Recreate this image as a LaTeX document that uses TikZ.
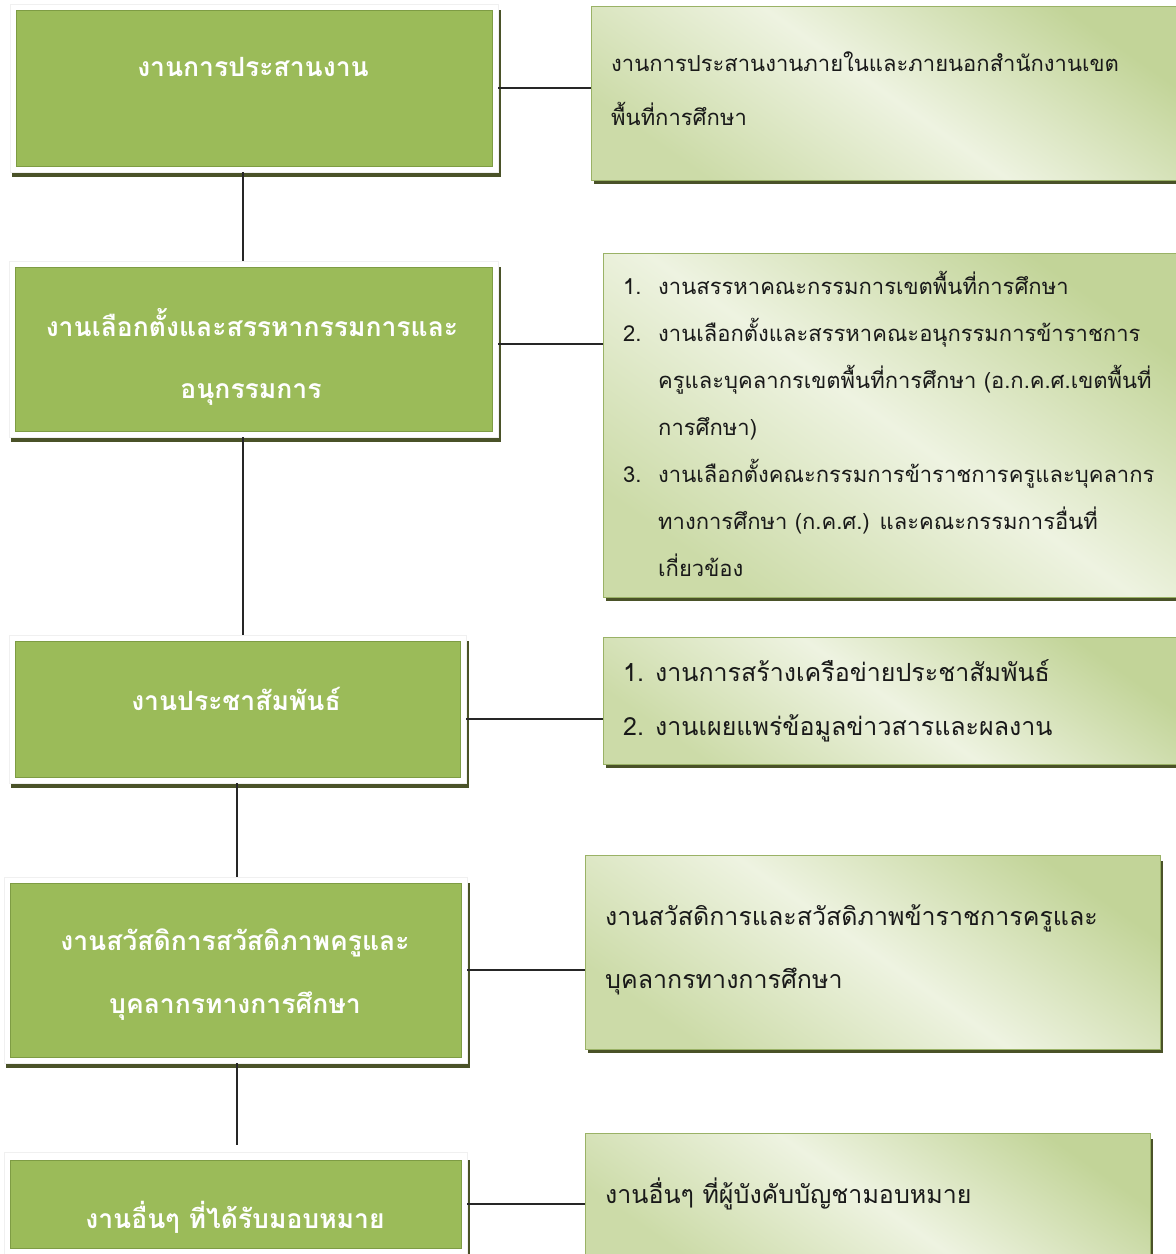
\documentclass[tikz,border=0pt]{standalone}
\usepackage{fontspec}
\newfontfamily\thai[Script=Thai]{Loma}
\definecolor{boxgreen}{HTML}{9BBB59}
\definecolor{boxgreenb}{HTML}{7E9C44}
\definecolor{shadowc}{HTML}{4A5228}
\definecolor{rgA}{HTML}{C2D498}
\definecolor{rgB}{HTML}{EEF3E1}
\definecolor{rgC}{HTML}{CCDBA8}
\definecolor{rborder}{HTML}{9AB266}
\begin{document}
\begin{tikzpicture}[x=1pt,y=-1pt,
  lefttext/.style={font=\thai\bfseries\fontsize{26.5}{30}\selectfont, text=white, inner sep=0pt, anchor=base},
  righttext/.style={font=\thai\fontsize{22}{26}\selectfont, text=black!90, inner sep=0pt, anchor=base west},
  bigright/.style={righttext, font=\thai\fontsize{25}{29}\selectfont},
  greenbox/.style={fill=boxgreen, draw=boxgreenb, line width=0.8pt},
  framebox/.style={fill=white, draw=black!6, line width=0.6pt},
  shadowbox/.style={fill=shadowc},
  rightbox/.style={top color=rgA, bottom color=rgC, middle color=rgB, shading angle=-35, draw=rborder, line width=0.8pt},
  conn/.style={draw=black!85, line width=1.4pt},
]
\useasboundingbox (0,0) rectangle (1176,1254);

% ---------- left boxes ----------
% box 1
\fill[shadowbox] (12,10) rectangle (501,177);
\node[framebox, minimum width=488pt, minimum height=168pt, inner sep=0pt] (f1) at (254,88) {};
\node[greenbox, minimum width=476pt, minimum height=156pt, inner sep=0pt] (g1) at (254,88) {};
% box 2
\fill[shadowbox] (11,267) rectangle (501,442);
\node[framebox, minimum width=489pt, minimum height=176pt, inner sep=0pt] (f2) at (253.5,349) {};
\node[greenbox, minimum width=477pt, minimum height=164pt, inner sep=0pt] (g2) at (253.5,349) {};
% box 3
\fill[shadowbox] (11,641) rectangle (469,788);
\node[framebox, minimum width=457pt, minimum height=148pt, inner sep=0pt] (f3) at (237.5,709) {};
\node[greenbox, minimum width=445pt, minimum height=136pt, inner sep=0pt] (g3) at (237.5,709) {};
% box 4
\fill[shadowbox] (6,883) rectangle (470,1068);
\node[framebox, minimum width=463pt, minimum height=186pt, inner sep=0pt] (f4) at (235.5,970) {};
\node[greenbox, minimum width=451pt, minimum height=174pt, inner sep=0pt] (g4) at (235.5,970) {};
% box 5
\fill[shadowbox] (6,1160) rectangle (470,1262);
\node[framebox, minimum width=463pt, minimum height=106pt, inner sep=0pt] (f5) at (235.5,1205) {};
\node[greenbox, minimum width=451pt, minimum height=88pt, inner sep=0pt] (g5) at (235.5,1204) {};

% ---------- right boxes ----------
\fill[shadowbox] (594,12) rectangle (1180,184);
\node[rightbox, minimum width=589pt, minimum height=174pt, inner sep=0pt] (r1) at (885.5,93) {};
\fill[shadowbox] (606,259) rectangle (1180,601);
\node[rightbox, minimum width=577pt, minimum height=344pt, inner sep=0pt] (r2) at (891.5,425) {};
\fill[shadowbox] (606,643) rectangle (1180,768);
\node[rightbox, minimum width=577pt, minimum height=127pt, inner sep=0pt] (r3) at (891.5,700.5) {};
\fill[shadowbox] (588,861) rectangle (1163,1053);
\node[rightbox, minimum width=575pt, minimum height=194pt, inner sep=0pt] (r4) at (872.5,952) {};
\fill[shadowbox] (588,1139) rectangle (1153,1262);
\node[rightbox, minimum width=565pt, minimum height=127pt, inner sep=0pt] (r5) at (867.5,1196.5) {};

% ---------- connectors ----------
\coordinate (v4end) at (237,1145);
\draw[conn] (f1.east) -- (f1.east -| r1.west);
\draw[conn] ([yshift=5pt]f2.east) -- ([yshift=5pt]f2.east -| r2.west);
\draw[conn] ([yshift=-10pt]f3.east) -- ([yshift=-10pt]f3.east -| r3.west);
\draw[conn] (f4.east) -- (f4.east -| r4.west);
\draw[conn] ([yshift=1pt]f5.east) -- ([yshift=1pt]f5.east -| r5.west);
\draw[conn] ([xshift=-11pt]f1.south) -- ([xshift=-11pt]f1.south |- f2.north);
\draw[conn] ([xshift=-10.5pt]f2.south) -- ([xshift=-10.5pt]f2.south |- f3.north);
\draw[conn] ([xshift=-0.5pt]f3.south) -- ([xshift=-0.5pt]f3.south |- f4.north);
\draw[conn] ([xshift=1.5pt]f4.south) -- (v4end);

% ---------- left texts ----------
\node[lefttext] (t1) at (253,76) {งานการประสานงาน};
\node[lefttext] (t2a) at (252,336) {งานเลือกตั้งและสรรหากรรมการและ};
\node[lefttext] (t2b) at (251,398) {อนุกรรมการ};
\node[lefttext] (t3) at (236,710) {งานประชาสัมพันธ์};
\node[lefttext] (t4a) at (235,950) {งานสวัสดิการสวัสดิภาพครูและ};
\node[lefttext] (t4b) at (235,1013) {บุคลากรทางการศึกษา};
\node[lefttext] (t5) at (235,1228) {งานอื่นๆ ที่ได้รับมอบหมาย};

% ---------- right texts ----------
\node[righttext] (s1a) at (611,71) {งานการประสานงานภายในและภายนอกสำนักงานเขต};
\node[righttext] (s1b) at (611,125) {พื้นที่การศึกษา};

\node[righttext] (n21) at (623,294) {1.};
\node[righttext] (s21) at (658,294) {งานสรรหาคณะกรรมการเขตพื้นที่การศึกษา};
\node[righttext] (n22) at (623,341) {2.};
\node[righttext] (s22a) at (658,341) {งานเลือกตั้งและสรรหาคณะอนุกรรมการข้าราชการ};
\node[righttext] (s22b) at (658,388) {ครูและบุคลากรเขตพื้นที่การศึกษา (อ.ก.ค.ศ.เขตพื้นที่};
\node[righttext] (s22c) at (658,435) {การศึกษา)};
\node[righttext] (n23) at (623,482) {3.};
\node[righttext] (s23a) at (658,482) {งานเลือกตั้งคณะกรรมการข้าราชการครูและบุคลากร};
\node[righttext] (s23b) at (658,529) {ทางการศึกษา (ก.ค.ศ.) และคณะกรรมการอื่นที่};
\node[righttext] (s23c) at (658,576) {เกี่ยวข้อง};

\node[bigright] (n31) at (623,681) {1.};
\node[bigright] (s31) at (655,681) {งานการสร้างเครือข่ายประชาสัมพันธ์};
\node[bigright] (n32) at (623,735) {2.};
\node[bigright] (s32) at (655,735) {งานเผยแพร่ข้อมูลข่าวสารและผลงาน};

\node[bigright] (s4a) at (605,925) {งานสวัสดิการและสวัสดิภาพข้าราชการครูและ};
\node[bigright] (s4b) at (605,988) {บุคลากรทางการศึกษา};

\node[bigright] (s5) at (605,1203) {งานอื่นๆ ที่ผู้บังคับบัญชามอบหมาย};
\end{tikzpicture}
\end{document}
